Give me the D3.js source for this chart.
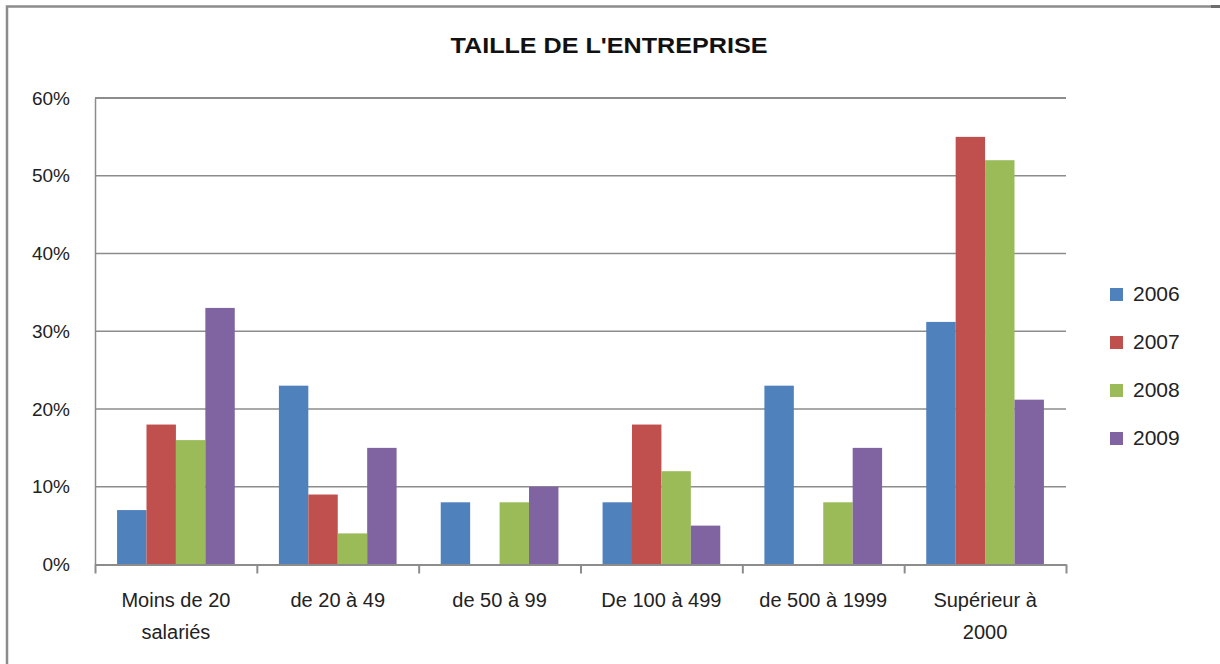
<!DOCTYPE html>
<html><head><meta charset="utf-8">
<script src="https://cdn.jsdelivr.net/npm/d3@7"></script>
<style>body{margin:0;background:#fff;} svg{display:block;}</style>
</head><body>
<svg id="c" width="1220" height="664"></svg>
<script>
const categories = [["Moins de 20","salariés"],["de 20 à 49"],["de 50 à 99"],["De 100 à 499"],["de 500 à 1999"],["Supérieur à","2000"]];
const years = ["2006","2007","2008","2009"];
const v2006 = [0.07, 0.23, 0.08, 0.08, 0.23, 0.312];
const v2007 = [0.18, 0.09, 0, 0.18, 0, 0.55];
const v2008 = [0.16, 0.04, 0.08, 0.12, 0.08, 0.52];
const v2009 = [0.33, 0.15, 0.10, 0.05, 0.15, 0.212];
const yTicks = [0, 0.1, 0.2, 0.3, 0.4, 0.5, 0.6];
const colors = ["#4f81bd","#c0504d","#9bbb59","#8064a2"];
const series = [v2006, v2007, v2008, v2009];

const svg = d3.select("#c");
const font = "'Liberation Sans', Arial, sans-serif";
// outer border
svg.append("path").attr("d","M7,680 V6.5 H1211").attr("fill","none").attr("stroke","#8c8c8c").attr("stroke-width",2.5);
svg.append("line").attr("x1",1211).attr("x2",1220).attr("y1",6.5).attr("y2",6.5).attr("stroke","#6d6d6d").attr("stroke-width",3);

const L = 95, R = 1066, T = 98, B = 564.5;
const x0 = d3.scaleBand().domain(d3.range(categories.length)).range([L, R]).paddingInner(0).paddingOuter(0);
const x1 = d3.scaleBand().domain(years).range([0, x0.bandwidth()]).paddingInner(0).paddingOuter(0.75);
const y = d3.scaleLinear().domain([0, 0.6]).range([B, T]);

// gridlines
svg.append("g").selectAll("line").data(yTicks.slice(1)).join("line")
  .attr("x1", L).attr("x2", R).attr("y1", d=>y(d)).attr("y2", d=>y(d))
  .attr("stroke","#8c8c8c").attr("stroke-width",d=>d===0.6?2:1.5);

// bars
const g = svg.append("g");
series.forEach((vals, si) => {
  g.selectAll(null).data(vals).join("rect")
    .attr("x", (d,i)=>x0(i)+x1(years[si]))
    .attr("width", x1.bandwidth())
    .attr("y", d=>y(d))
    .attr("height", d=>B - y(d))
    .attr("fill", colors[si]);
});

// y axis
const yAxis = d3.axisLeft(y).tickValues(yTicks).tickFormat(d3.format(".0%")).tickSize(0).tickPadding(25);
const ya = svg.append("g").attr("transform",`translate(${L},0)`).call(yAxis);
ya.select(".domain").attr("stroke","#8c8c8c").attr("stroke-width",1.5);
ya.selectAll("text").attr("font-family",font).attr("font-size",19).attr("fill","#222");

// x axis
const xAxisScale = d3.scaleLinear().domain([0, categories.length]).range([L, R]);
const xa = svg.append("g").attr("transform",`translate(0,${B})`)
  .call(d3.axisBottom(xAxisScale).tickValues(d3.range(categories.length+1)).tickFormat("").tickSize(9).tickSizeOuter(0));
xa.select(".domain").attr("stroke","#8c8c8c").attr("stroke-width",2);
xa.selectAll(".tick line").attr("stroke","#8c8c8c").attr("stroke-width",2);

// category labels
categories.forEach((lines, i) => {
  const t = svg.append("text").attr("x", x0(i)+x0.bandwidth()/2).attr("y", 607)
    .attr("text-anchor","middle").attr("font-family",font).attr("font-size",20).attr("fill","#222");
  lines.forEach((ln, j) => t.append("tspan").attr("x", x0(i)+x0.bandwidth()/2).attr("dy", j===0?0:32).text(ln));
});

// title
svg.append("text").attr("x", 609).attr("y", 53).attr("text-anchor","middle")
  .attr("font-family",font).attr("font-weight","bold").attr("font-size",22).attr("fill","#111")
  .attr("textLength",317).attr("lengthAdjust","spacingAndGlyphs").text("TAILLE DE L'ENTREPRISE");

// legend
const legY = d3.scalePoint().domain(years).range([294, 438]);
const lg = svg.append("g");
years.forEach((yr, i) => {
  lg.append("rect").attr("x",1110).attr("y",legY(yr)-6).attr("width",13).attr("height",13).attr("fill",colors[i]);
  lg.append("text").attr("x",1133).attr("y",legY(yr)+7).attr("font-family",font).attr("font-size",21).attr("fill","#222").text(yr);
});
</script>
</body></html>
